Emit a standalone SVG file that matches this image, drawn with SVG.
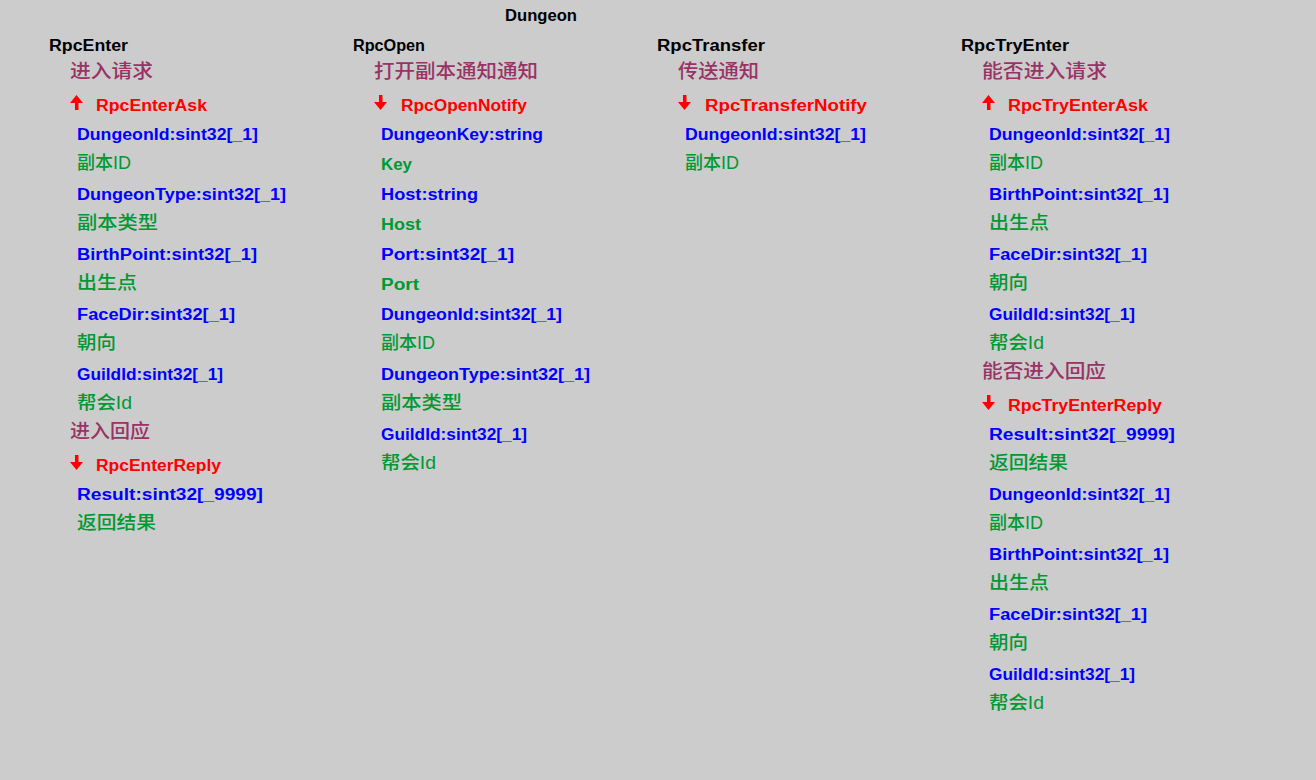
<svg xmlns="http://www.w3.org/2000/svg" width="1316" height="780" viewBox="0 0 1316 780">
  <style>
    text { font-family: "Liberation Sans", "Noto Sans CJK SC", sans-serif; }
    .t { font-size: 16px; font-weight: bold; fill: #000000; }
    .h { font-family: "Noto Sans CJK SC", sans-serif; font-size: 19px; font-weight: 500; fill: #993366; }
    .m { font-size: 16px; font-weight: bold; fill: #FF0000; }
    .f { font-size: 16px; font-weight: bold; fill: #0000FF; }
    .c { font-size: 18px; font-weight: 500; fill: #009933; }
    .cl { font-size: 16px; font-weight: bold; fill: #009933; }
    .arr { fill: #FF0000; }
  </style>
  <defs>
    <!-- direction markers for request / reply messages -->
    <g id="up" class="arr">
      <polygon points="6.5,0 0,8 13,8"/>
      <rect x="5" y="7" width="3.5" height="8"/>
    </g>
    <g id="down" class="arr">
      <rect x="5" y="0" width="3.5" height="8"/>
      <polygon points="0,7 13,7 6.5,15"/>
    </g>
  </defs>

  <rect width="1316" height="780" fill="#CCCCCC"/>

  <text id="title" class="t" x="505" y="21" textLength="72" lengthAdjust="spacingAndGlyphs">Dungeon</text>

  <!-- RpcEnter -->
  <g id="rpc-enter">
    <text class="t" x="49" y="51" textLength="79" lengthAdjust="spacingAndGlyphs">RpcEnter</text>
    <text class="h" x="70" y="78" textLength="83" lengthAdjust="spacingAndGlyphs">进入请求</text>
    <use href="#up" x="70" y="95"/>
    <text class="m" x="96" y="111" textLength="111" lengthAdjust="spacingAndGlyphs">RpcEnterAsk</text>
    <text class="f" x="77" y="140" textLength="181" lengthAdjust="spacingAndGlyphs">DungeonId:sint32[_1]</text>
    <text class="c" x="77" y="169" textLength="54" lengthAdjust="spacingAndGlyphs">副本ID</text>
    <text class="f" x="77" y="200" textLength="209" lengthAdjust="spacingAndGlyphs">DungeonType:sint32[_1]</text>
    <text class="c" x="77" y="229" textLength="81" lengthAdjust="spacingAndGlyphs">副本类型</text>
    <text class="f" x="77" y="260" textLength="180" lengthAdjust="spacingAndGlyphs">BirthPoint:sint32[_1]</text>
    <text class="c" x="77" y="289" textLength="60" lengthAdjust="spacingAndGlyphs">出生点</text>
    <text class="f" x="77" y="320" textLength="158" lengthAdjust="spacingAndGlyphs">FaceDir:sint32[_1]</text>
    <text class="c" x="77" y="349" textLength="39" lengthAdjust="spacingAndGlyphs">朝向</text>
    <text class="f" x="77" y="380" textLength="146" lengthAdjust="spacingAndGlyphs">GuildId:sint32[_1]</text>
    <text class="c" x="77" y="409" textLength="55" lengthAdjust="spacingAndGlyphs">帮会Id</text>
    <text class="h" x="70" y="438" textLength="80" lengthAdjust="spacingAndGlyphs">进入回应</text>
    <use href="#down" x="70" y="455"/>
    <text class="m" x="96" y="471" textLength="125" lengthAdjust="spacingAndGlyphs">RpcEnterReply</text>
    <text class="f" x="77" y="500" textLength="186" lengthAdjust="spacingAndGlyphs">Result:sint32[_9999]</text>
    <text class="c" x="77" y="529" textLength="79" lengthAdjust="spacingAndGlyphs">返回结果</text>
  </g>

  <!-- RpcOpen -->
  <g id="rpc-open">
    <text class="t" x="353" y="51" textLength="72" lengthAdjust="spacingAndGlyphs">RpcOpen</text>
    <text class="h" x="374" y="78" textLength="164" lengthAdjust="spacingAndGlyphs">打开副本通知通知</text>
    <use href="#down" x="374" y="95"/>
    <text class="m" x="401" y="111" textLength="126" lengthAdjust="spacingAndGlyphs">RpcOpenNotify</text>
    <text class="f" x="381" y="140" textLength="162" lengthAdjust="spacingAndGlyphs">DungeonKey:string</text>
    <text class="cl" x="381" y="170" textLength="31" lengthAdjust="spacingAndGlyphs">Key</text>
    <text class="f" x="381" y="200" textLength="97" lengthAdjust="spacingAndGlyphs">Host:string</text>
    <text class="cl" x="381" y="230" textLength="40" lengthAdjust="spacingAndGlyphs">Host</text>
    <text class="f" x="381" y="260" textLength="133" lengthAdjust="spacingAndGlyphs">Port:sint32[_1]</text>
    <text class="cl" x="381" y="290" textLength="38" lengthAdjust="spacingAndGlyphs">Port</text>
    <text class="f" x="381" y="320" textLength="181" lengthAdjust="spacingAndGlyphs">DungeonId:sint32[_1]</text>
    <text class="c" x="381" y="349" textLength="54" lengthAdjust="spacingAndGlyphs">副本ID</text>
    <text class="f" x="381" y="380" textLength="209" lengthAdjust="spacingAndGlyphs">DungeonType:sint32[_1]</text>
    <text class="c" x="381" y="409" textLength="81" lengthAdjust="spacingAndGlyphs">副本类型</text>
    <text class="f" x="381" y="440" textLength="146" lengthAdjust="spacingAndGlyphs">GuildId:sint32[_1]</text>
    <text class="c" x="381" y="469" textLength="55" lengthAdjust="spacingAndGlyphs">帮会Id</text>
  </g>

  <!-- RpcTransfer -->
  <g id="rpc-transfer">
    <text class="t" x="657" y="51" textLength="108" lengthAdjust="spacingAndGlyphs">RpcTransfer</text>
    <text class="h" x="678" y="78" textLength="81" lengthAdjust="spacingAndGlyphs">传送通知</text>
    <use href="#down" x="678" y="95"/>
    <text class="m" x="705" y="111" textLength="162" lengthAdjust="spacingAndGlyphs">RpcTransferNotify</text>
    <text class="f" x="685" y="140" textLength="181" lengthAdjust="spacingAndGlyphs">DungeonId:sint32[_1]</text>
    <text class="c" x="685" y="169" textLength="54" lengthAdjust="spacingAndGlyphs">副本ID</text>
  </g>

  <!-- RpcTryEnter -->
  <g id="rpc-try-enter">
    <text class="t" x="961" y="51" textLength="108" lengthAdjust="spacingAndGlyphs">RpcTryEnter</text>
    <text class="h" x="982" y="78" textLength="125" lengthAdjust="spacingAndGlyphs">能否进入请求</text>
    <use href="#up" x="982" y="95"/>
    <text class="m" x="1008" y="111" textLength="140" lengthAdjust="spacingAndGlyphs">RpcTryEnterAsk</text>
    <text class="f" x="989" y="140" textLength="181" lengthAdjust="spacingAndGlyphs">DungeonId:sint32[_1]</text>
    <text class="c" x="989" y="169" textLength="54" lengthAdjust="spacingAndGlyphs">副本ID</text>
    <text class="f" x="989" y="200" textLength="180" lengthAdjust="spacingAndGlyphs">BirthPoint:sint32[_1]</text>
    <text class="c" x="989" y="229" textLength="60" lengthAdjust="spacingAndGlyphs">出生点</text>
    <text class="f" x="989" y="260" textLength="158" lengthAdjust="spacingAndGlyphs">FaceDir:sint32[_1]</text>
    <text class="c" x="989" y="289" textLength="39" lengthAdjust="spacingAndGlyphs">朝向</text>
    <text class="f" x="989" y="320" textLength="146" lengthAdjust="spacingAndGlyphs">GuildId:sint32[_1]</text>
    <text class="c" x="989" y="349" textLength="55" lengthAdjust="spacingAndGlyphs">帮会Id</text>
    <text class="h" x="982" y="378" textLength="124" lengthAdjust="spacingAndGlyphs">能否进入回应</text>
    <use href="#down" x="982" y="395"/>
    <text class="m" x="1008" y="411" textLength="154" lengthAdjust="spacingAndGlyphs">RpcTryEnterReply</text>
    <text class="f" x="989" y="440" textLength="186" lengthAdjust="spacingAndGlyphs">Result:sint32[_9999]</text>
    <text class="c" x="989" y="469" textLength="79" lengthAdjust="spacingAndGlyphs">返回结果</text>
    <text class="f" x="989" y="500" textLength="181" lengthAdjust="spacingAndGlyphs">DungeonId:sint32[_1]</text>
    <text class="c" x="989" y="529" textLength="54" lengthAdjust="spacingAndGlyphs">副本ID</text>
    <text class="f" x="989" y="560" textLength="180" lengthAdjust="spacingAndGlyphs">BirthPoint:sint32[_1]</text>
    <text class="c" x="989" y="589" textLength="60" lengthAdjust="spacingAndGlyphs">出生点</text>
    <text class="f" x="989" y="620" textLength="158" lengthAdjust="spacingAndGlyphs">FaceDir:sint32[_1]</text>
    <text class="c" x="989" y="649" textLength="39" lengthAdjust="spacingAndGlyphs">朝向</text>
    <text class="f" x="989" y="680" textLength="146" lengthAdjust="spacingAndGlyphs">GuildId:sint32[_1]</text>
    <text class="c" x="989" y="709" textLength="55" lengthAdjust="spacingAndGlyphs">帮会Id</text>
  </g>
</svg>
